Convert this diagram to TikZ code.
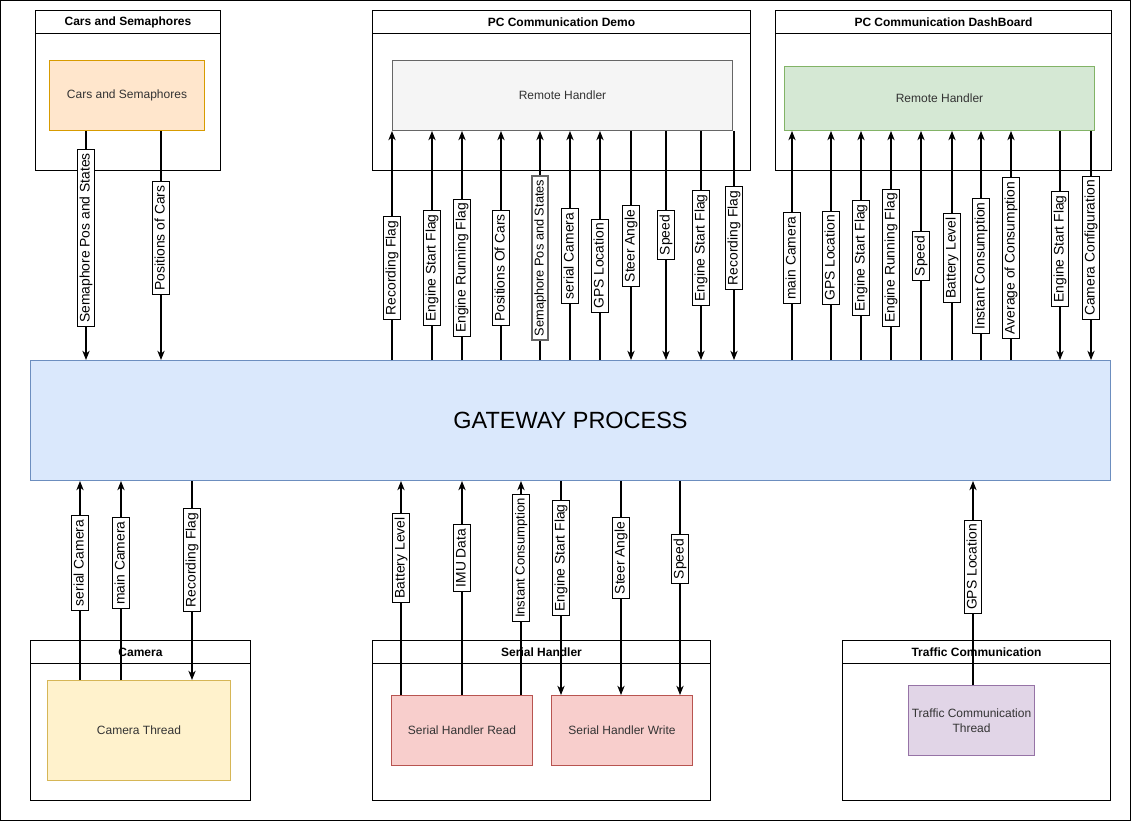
\documentclass[tikz,border=0pt]{standalone}
\usepackage{fontspec}
\setmainfont{Liberation Sans}
\usetikzlibrary{arrows.meta}
\definecolor{gwfill}{HTML}{DAE8FC}
\definecolor{gwline}{HTML}{6C8EBF}
\definecolor{orfill}{HTML}{FFE6CC}
\definecolor{orline}{HTML}{D79B00}
\definecolor{gyfill}{HTML}{F5F5F5}
\definecolor{gyline}{HTML}{666666}
\definecolor{grfill}{HTML}{D5E8D4}
\definecolor{grline}{HTML}{82B366}
\definecolor{yefill}{HTML}{FFF2CC}
\definecolor{yeline}{HTML}{D6B656}
\definecolor{rdfill}{HTML}{F8CECC}
\definecolor{rdline}{HTML}{B85450}
\definecolor{pufill}{HTML}{E1D5E7}
\definecolor{puline}{HTML}{9673A6}
\definecolor{txt}{HTML}{333333}

\begin{document}
\begin{tikzpicture}[x=0.75pt, y=-0.75pt,
  cont/.style={draw, line width=0.75pt, anchor=north west, inner sep=0pt},
  hdr/.style={cont, font=\bfseries\fontsize{9}{11}\selectfont},
  inbox/.style={draw, line width=0.75pt, anchor=north west, inner sep=2pt, text=txt, align=center, font=\fontsize{9}{11}\selectfont},
  lbl/.style={draw, fill=white, rotate=90, line width=0.75pt, inner xsep=3pt, inner ysep=1.2pt, text height=7.8pt, text depth=2.3pt, font=\fontsize{10.4}{12}\selectfont},
  arr/.style={-{Stealth[length=7pt,width=5.5pt]}, line width=0.8pt},
  ln/.style={line width=0.8pt}]
\def\pxu{0.75pt}
\def\hh{23}
\def\ch{160}

\useasboundingbox (0,0) rectangle (1131,821);
\draw[line width=1.2pt] (0.6,0.6) rectangle (1130.4,820.4);

\node[cont, minimum width=185*\pxu, minimum height=\ch*\pxu] (carsC) at (35,10) {};
\node[hdr, minimum width=185*\pxu, minimum height=\hh*\pxu] (carsH) at (35,10) {Cars and Semaphores};
\node[inbox, fill=orfill, draw=orline, minimum width=155*\pxu, minimum height=70*\pxu] (carsIn) at (49,60) {Cars and Semaphores};

\node[cont, minimum width=378*\pxu, minimum height=\ch*\pxu] (demoC) at (372,10) {};
\node[hdr, minimum width=378*\pxu, minimum height=\hh*\pxu] (demoH) at (372,10) {PC Communication Demo};
\node[inbox, fill=gyfill, draw=gyline, minimum width=340*\pxu, minimum height=70*\pxu] (rhDemo) at (392,60) {Remote Handler};

\node[cont, minimum width=336*\pxu, minimum height=\ch*\pxu] (dashC) at (775,10) {};
\node[hdr, minimum width=336*\pxu, minimum height=\hh*\pxu] (dashH) at (775,10) {PC Communication DashBoard};
\node[inbox, fill=grfill, draw=grline, minimum width=310*\pxu, minimum height=64*\pxu] (rhDash) at (784,66) {Remote Handler};

\node[draw=gwline, fill=gwfill, line width=0.75pt, anchor=north west, minimum width=1080*\pxu, minimum height=120*\pxu, font=\fontsize{17.6}{20}\selectfont, text=black] (gw) at (30,360) {GATEWAY PROCESS};

\node[cont, minimum width=220*\pxu, minimum height=\ch*\pxu] (camC) at (30,640) {};
\node[hdr, minimum width=220*\pxu, minimum height=\hh*\pxu] (camH) at (30,640) {Camera};
\node[inbox, fill=yefill, draw=yeline, minimum width=183*\pxu, minimum height=100*\pxu] (camTh) at (47,680) {Camera Thread};

\node[cont, minimum width=338*\pxu, minimum height=\ch*\pxu] (serC) at (372,640) {};
\node[hdr, minimum width=338*\pxu, minimum height=\hh*\pxu] (serH) at (372,640) {Serial Handler};
\node[inbox, fill=rdfill, draw=rdline, minimum width=141*\pxu, minimum height=70*\pxu] (serRead) at (391,695) {Serial Handler Read};
\node[inbox, fill=rdfill, draw=rdline, minimum width=141*\pxu, minimum height=70*\pxu] (serWrite) at (551,695) {Serial Handler Write};

\node[cont, minimum width=268*\pxu, minimum height=\ch*\pxu] (trC) at (842,640) {};
\node[hdr, minimum width=268*\pxu, minimum height=\hh*\pxu] (trH) at (842,640) {Traffic Communication};
\node[inbox, fill=pufill, draw=puline, minimum width=126*\pxu, minimum height=70*\pxu] (trTh) at (908,685) {Traffic Communication\\Thread};

\node[lbl] (sSem) at (86,238) {Semaphore Pos and States};
\node[lbl] (sPos) at (161,238) {Positions of Cars};
\draw[ln] (carsIn.south -| sSem) -- (sSem);
\draw[arr] (sSem) -- (sSem |- gw.north);
\draw[ln] (carsIn.south -| sPos) -- (sPos);
\draw[arr] (sPos) -- (sPos |- gw.north);

\node[lbl] (dRec) at (392,268) {Recording Flag};
\node[lbl] (dEng) at (432,268) {Engine Start Flag};
\node[lbl] (dRun) at (462,268) {Engine Running Flag};
\node[lbl] (dPos) at (501,268) {Positions Of Cars};
\node[lbl, draw=gyline, line width=1.5pt, font=\fontsize{9.6}{11}\selectfont] (dSem) at (540,258) {Semaphore Pos and States};
\node[lbl] (dSer) at (570,256) {serial Camera};
\node[lbl] (dGps) at (600,266) {GPS Location};
\node[lbl] (dSteer) at (631,246) {Steer Angle};
\node[lbl] (dSpd) at (666,235) {Speed};
\node[lbl] (dEng2) at (701,248) {Engine Start Flag};
\node[lbl] (dRec2) at (734,238) {Recording Flag};
\draw[ln] (gw.north -| dRec) -- (dRec);
\draw[arr] (dRec) -- (dRec |- rhDemo.south);
\draw[ln] (gw.north -| dEng) -- (dEng);
\draw[arr] (dEng) -- (dEng |- rhDemo.south);
\draw[ln] (gw.north -| dRun) -- (dRun);
\draw[arr] (dRun) -- (dRun |- rhDemo.south);
\draw[ln] (gw.north -| dPos) -- (dPos);
\draw[arr] (dPos) -- (dPos |- rhDemo.south);
\draw[ln] (gw.north -| dSem) -- (dSem);
\draw[arr] (dSem) -- (dSem |- rhDemo.south);
\draw[ln] (gw.north -| dSer) -- (dSer);
\draw[arr] (dSer) -- (dSer |- rhDemo.south);
\draw[ln] (gw.north -| dGps) -- (dGps);
\draw[arr] (dGps) -- (dGps |- rhDemo.south);
\draw[ln] (rhDemo.south -| dSteer) -- (dSteer);
\draw[arr] (dSteer) -- (dSteer |- gw.north);
\draw[ln] (rhDemo.south -| dSpd) -- (dSpd);
\draw[arr] (dSpd) -- (dSpd |- gw.north);
\draw[ln] (rhDemo.south -| dEng2) -- (dEng2);
\draw[arr] (dEng2) -- (dEng2 |- gw.north);
\draw[ln] (rhDemo.south -| dRec2) -- (dRec2);
\draw[arr] (dRec2) -- (dRec2 |- gw.north);

\node[lbl] (bMain) at (792,258) {main Camera};
\node[lbl] (bGps) at (831,258) {GPS Location};
\node[lbl] (bEng) at (861,258) {Engine Start Flag};
\node[lbl] (bRun) at (891,258) {Engine Running Flag};
\node[lbl] (bSpd) at (921,256) {Speed};
\node[lbl] (bBat) at (952,258) {Battery Level};
\node[lbl] (bInst) at (981,266) {Instant Consumption};
\node[lbl] (bAvg) at (1011,258) {Average of Consumption};
\node[lbl] (bEng2) at (1060,249) {Engine Start Flag};
\node[lbl] (bCam) at (1091,248) {Camera Configuration};
\draw[ln] (gw.north -| bMain) -- (bMain);
\draw[arr] (bMain) -- (bMain |- rhDash.south);
\draw[ln] (gw.north -| bGps) -- (bGps);
\draw[arr] (bGps) -- (bGps |- rhDash.south);
\draw[ln] (gw.north -| bEng) -- (bEng);
\draw[arr] (bEng) -- (bEng |- rhDash.south);
\draw[ln] (gw.north -| bRun) -- (bRun);
\draw[arr] (bRun) -- (bRun |- rhDash.south);
\draw[ln] (gw.north -| bSpd) -- (bSpd);
\draw[arr] (bSpd) -- (bSpd |- rhDash.south);
\draw[ln] (gw.north -| bBat) -- (bBat);
\draw[arr] (bBat) -- (bBat |- rhDash.south);
\draw[ln] (gw.north -| bInst) -- (bInst);
\draw[arr] (bInst) -- (bInst |- rhDash.south);
\draw[ln] (gw.north -| bAvg) -- (bAvg);
\draw[arr] (bAvg) -- (bAvg |- rhDash.south);
\draw[ln] (rhDash.south -| bEng2) -- (bEng2);
\draw[arr] (bEng2) -- (bEng2 |- gw.north);
\draw[ln] (rhDash.south -| bCam) -- (bCam);
\draw[arr] (bCam) -- (bCam |- gw.north);

\node[lbl] (cSer) at (80,563) {serial Camera};
\node[lbl] (cMain) at (121,563) {main Camera};
\node[lbl] (cRec) at (192,560) {Recording Flag};
\draw[ln] (camTh.north -| cSer) -- (cSer);
\draw[arr] (cSer) -- (cSer |- gw.south);
\draw[ln] (camTh.north -| cMain) -- (cMain);
\draw[arr] (cMain) -- (cMain |- gw.south);
\draw[ln] (gw.south -| cRec) -- (cRec);
\draw[arr] (cRec) -- (cRec |- camTh.north);

\node[lbl] (rBat) at (401,558) {Battery Level};
\node[lbl] (rImu) at (462,558) {IMU Data};
\node[lbl, font=\fontsize{9.8}{11}\selectfont] (rInst) at (521,558) {Instant Consumption};
\node[lbl] (wEng) at (561,558) {Engine Start Flag};
\node[lbl] (wSteer) at (621,558) {Steer Angle};
\node[lbl] (wSpd) at (680,559) {Speed};
\draw[ln] (serRead.north -| rBat) -- (rBat);
\draw[arr] (rBat) -- (rBat |- gw.south);
\draw[ln] (serRead.north -| rImu) -- (rImu);
\draw[arr] (rImu) -- (rImu |- gw.south);
\draw[ln] (serRead.north -| rInst) -- (rInst);
\draw[arr] (rInst) -- (rInst |- gw.south);
\draw[ln] (gw.south -| wEng) -- (wEng);
\draw[arr] (wEng) -- (wEng |- serWrite.north);
\draw[ln] (gw.south -| wSteer) -- (wSteer);
\draw[arr] (wSteer) -- (wSteer |- serWrite.north);
\draw[ln] (gw.south -| wSpd) -- (wSpd);
\draw[arr] (wSpd) -- (wSpd |- serWrite.north);

\node[lbl] (tGps) at (973,567) {GPS Location};
\draw[ln] (trTh.north -| tGps) -- (tGps);
\draw[arr] (tGps) -- (tGps |- gw.south);

\end{tikzpicture}
\end{document}
